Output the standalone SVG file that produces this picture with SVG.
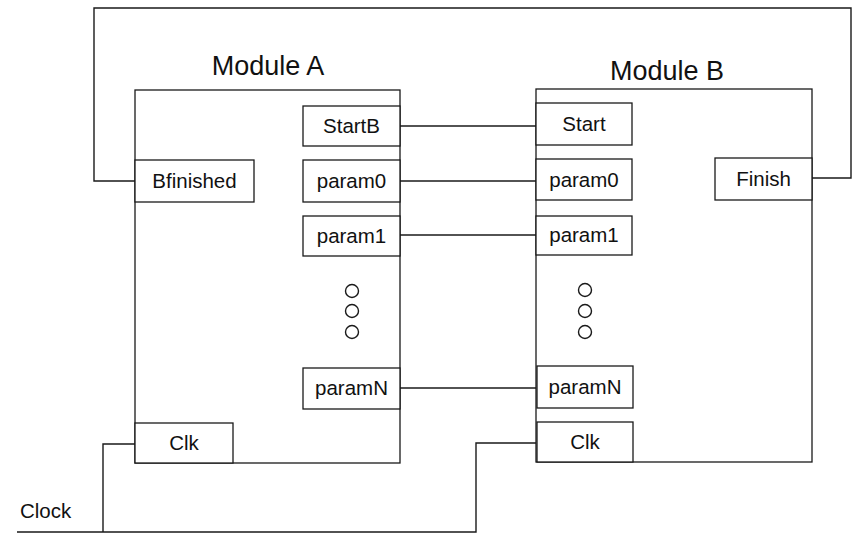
<svg xmlns="http://www.w3.org/2000/svg" width="852" height="533" viewBox="0 0 852 533">
<style>
.mod{fill:#fff;stroke:#1a1a1a;stroke-width:1.3}
.port{fill:#fff;stroke:#1a1a1a;stroke-width:1.3}
.t{font-family:"Liberation Sans",Arial,sans-serif;font-size:20.5px;fill:#111;text-anchor:middle}
.title{font-family:"Liberation Sans",Arial,sans-serif;font-size:27px;fill:#111;text-anchor:middle}
.w{fill:none;stroke:#1a1a1a;stroke-width:1.4}
.dot{fill:none;stroke:#1a1a1a;stroke-width:1.4}
</style>
<rect width="852" height="533" fill="#fff"/>
<g id="connectors">
<polyline class="w" points="135,181 94,181 94,8 851,8 851,178 812,178"/>
<line class="w" x1="400" y1="126" x2="536" y2="126"/>
<line class="w" x1="400" y1="181" x2="536" y2="181"/>
<line class="w" x1="400" y1="235" x2="536" y2="235"/>
<line class="w" x1="400" y1="388" x2="536" y2="388"/>
<polyline class="w" points="17,532 476,532 476,443 537,443"/>
<polyline class="w" points="103,532 103,444 135,444"/>
</g>
<g id="moduleA">
<text class="title" x="268" y="75">Module A</text>
<rect class="mod" x="135" y="90" width="265" height="373"/>
<g id="circlesA">
<circle class="dot" cx="352" cy="291" r="6.5"/>
<circle class="dot" cx="352" cy="311" r="6.5"/>
<circle class="dot" cx="352" cy="332" r="6.5"/>
</g>
</g>
<g id="moduleB">
<text class="title" x="667" y="80">Module B</text>
<rect class="mod" x="536" y="89" width="276" height="373"/>
<g id="circlesB">
<circle class="dot" cx="585" cy="290" r="6.5"/>
<circle class="dot" cx="585" cy="311" r="6.5"/>
<circle class="dot" cx="585" cy="332" r="6.5"/>
</g>
</g>
<g id="A_StartB"><rect class="port" x="303" y="106" width="97" height="40"/><text class="t" x="351.5" y="133">StartB</text></g>
<g id="A_Bfinished"><rect class="port" x="135" y="160" width="119" height="42"/><text class="t" x="194.5" y="188">Bfinished</text></g>
<g id="A_param0"><rect class="port" x="303" y="160" width="97" height="42"/><text class="t" x="351.5" y="188">param0</text></g>
<g id="A_param1"><rect class="port" x="303" y="216" width="97" height="40"/><text class="t" x="351.5" y="243">param1</text></g>
<g id="A_paramN"><rect class="port" x="303" y="368" width="97" height="41"/><text class="t" x="351.5" y="395">paramN</text></g>
<g id="A_Clk"><rect class="port" x="135" y="423" width="98" height="40"/><text class="t" x="184" y="450">Clk</text></g>
<g id="B_Start"><rect class="port" x="536" y="103" width="96" height="42"/><text class="t" x="584" y="131">Start</text></g>
<g id="B_param0"><rect class="port" x="536" y="159" width="96" height="41"/><text class="t" x="584" y="187">param0</text></g>
<g id="B_Finish"><rect class="port" x="715" y="158" width="97" height="42"/><text class="t" x="763.5" y="186">Finish</text></g>
<g id="B_param1"><rect class="port" x="536" y="216" width="96" height="39"/><text class="t" x="584" y="242">param1</text></g>
<g id="B_paramN"><rect class="port" x="537" y="366" width="96" height="42"/><text class="t" x="585" y="394">paramN</text></g>
<g id="B_Clk"><rect class="port" x="537" y="422" width="96" height="40"/><text class="t" x="585" y="449">Clk</text></g>
<text class="t" x="20" y="518" style="text-anchor:start">Clock</text>
</svg>
